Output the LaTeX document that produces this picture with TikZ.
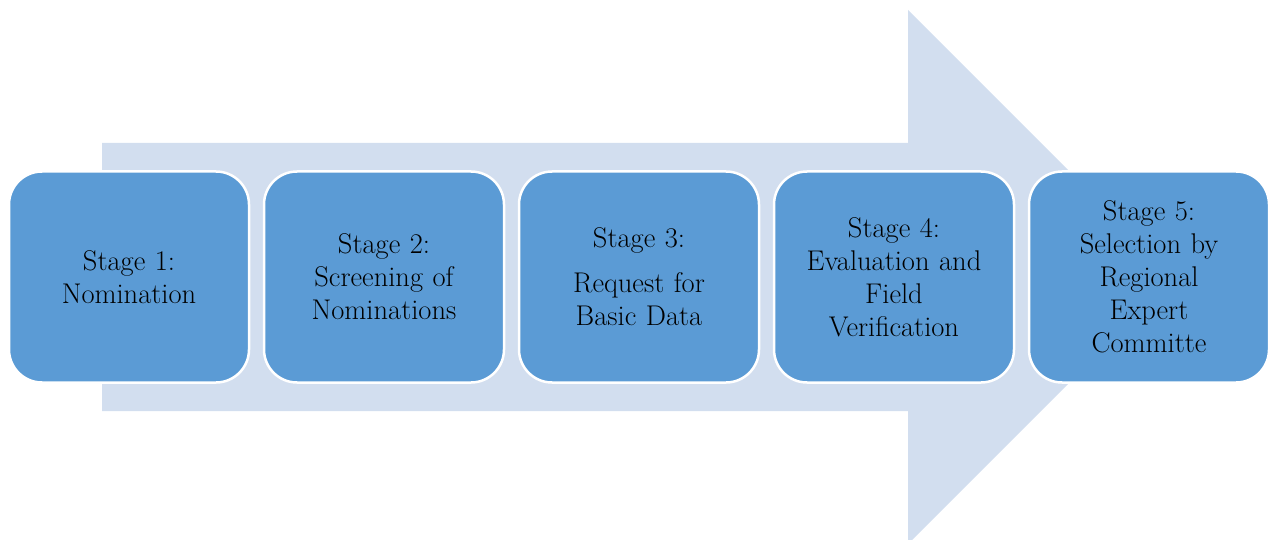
\documentclass[tikz,border=0pt]{standalone}
\usepackage{fontspec}
\definecolor{arrowfill}{HTML}{D2DEEF}
\definecolor{boxfill}{HTML}{5B9BD5}
\begin{document}
\begin{tikzpicture}[x=1pt,y=-1pt,
  stagebox/.style={draw=white, line width=2.5pt, fill=boxfill, rounded corners=33pt,
    minimum width=240pt, minimum height=211pt, inner sep=0pt, text width=226pt,
    align=center, font=\fontsize{28.5}{33}\selectfont, text=black}]
\useasboundingbox (0,0) rectangle (1269,540);
\clip (0,0) rectangle (1269,540);
\fill[arrowfill] (102,143) -- (908,143) -- (908,10) -- (1175,277) -- (908,544) -- (908,411) -- (102,411) -- cycle;
\node[stagebox] (s1) at (129,277) {Stage 1:\\ Nomination};
\node[stagebox] (s2) at (384,277) {Stage 2:\\ Screening of\\ Nominations};
\node[stagebox] (s3) at (639,277) {Stage 3:\\[12pt] Request for\\ Basic Data};
\node[stagebox] (s4) at (894,277) {Stage 4:\\ Evaluation and\\ Field\\ Verification};
\node[stagebox] (s5) at (1149,277) {Stage 5:\\ Selection by\\ Regional\\ Expert\\ Committe};
\end{tikzpicture}
\end{document}
